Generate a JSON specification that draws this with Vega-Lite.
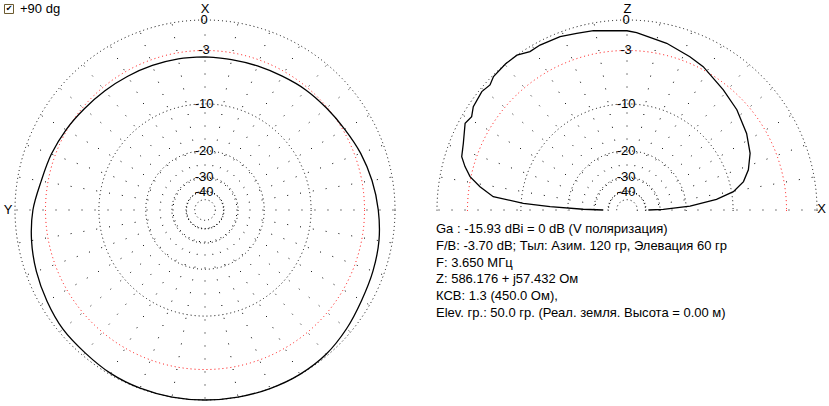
{
  "$schema": "https://vega.github.io/schema/vega-lite/v6.json",
  "padding": 0,
  "spacing": 0,
  "bounds": "flush",
  "background": "white",
  "config": {"view": {"stroke": null}, "concat": {"spacing": 0}, "text": {"font": "Liberation Sans", "fontSize": 13, "color": "black"}},
  "datasets": {
    "one": [{"k": 1}],
    "rings": [{"db": 0}, {"db": -3}, {"db": -10}, {"db": -20}, {"db": -30}, {"db": -40}, {"db": -50}],
    "ringLabels": [{"db": 0, "t": "0"}, {"db": -3, "t": "-3"}, {"db": -10, "t": "-10"}, {"db": -20, "t": "-20"}, {"db": -30, "t": "-30"}, {"db": -40, "t": "-40"}],
    "spokesFull": [{"a": 0}, {"a": 10}, {"a": 20}, {"a": 30}, {"a": 40}, {"a": 50}, {"a": 60}, {"a": 70}, {"a": 80}, {"a": 90}, {"a": 100}, {"a": 110}, {"a": 120}, {"a": 130}, {"a": 140}, {"a": 150}, {"a": 160}, {"a": 170}, {"a": 180}, {"a": 190}, {"a": 200}, {"a": 210}, {"a": 220}, {"a": 230}, {"a": 240}, {"a": 250}, {"a": 260}, {"a": 270}, {"a": 280}, {"a": 290}, {"a": 300}, {"a": 310}, {"a": 320}, {"a": 330}, {"a": 340}, {"a": 350}],
    "spokesHalf": [{"a": 0}, {"a": 10}, {"a": 20}, {"a": 30}, {"a": 40}, {"a": 50}, {"a": 60}, {"a": 70}, {"a": 80}, {"a": 90}, {"a": 100}, {"a": 110}, {"a": 120}, {"a": 130}, {"a": 140}, {"a": 150}, {"a": 160}, {"a": 170}, {"a": 180}],
    "azimuth": [
      {"az": 0, "db": -3.70}, {"az": 10, "db": -3.66}, {"az": 20, "db": -3.62}, {"az": 30, "db": -3.55},
      {"az": 40, "db": -3.42}, {"az": 50, "db": -3.22}, {"az": 60, "db": -2.90}, {"az": 70, "db": -2.58},
      {"az": 80, "db": -2.28}, {"az": 90, "db": -1.70}, {"az": 100, "db": -1.30}, {"az": 110, "db": -0.98},
      {"az": 120, "db": -0.70}, {"az": 130, "db": -0.42}, {"az": 140, "db": -0.32}, {"az": 150, "db": -0.12},
      {"az": 160, "db": -0.03}, {"az": 170, "db": 0}, {"az": 180, "db": 0}, {"az": 190, "db": 0},
      {"az": 200, "db": 0}, {"az": 210, "db": -0.02}, {"az": 220, "db": -0.15}, {"az": 230, "db": -0.48},
      {"az": 240, "db": -0.85}, {"az": 250, "db": -1.05}, {"az": 260, "db": -1.25}, {"az": 270, "db": -1.58},
      {"az": 280, "db": -1.95}, {"az": 290, "db": -2.35}, {"az": 300, "db": -2.80}, {"az": 310, "db": -3.10},
      {"az": 320, "db": -3.30}, {"az": 330, "db": -3.55}, {"az": 340, "db": -3.68}, {"az": 350, "db": -3.74},
      {"az": 360, "db": -3.70}
    ],
    "elevation": [
      {"el": 0, "db": -37.5}, {"el": 1, "db": -28.4}, {"el": 3.6, "db": -18.9}, {"el": 6.8, "db": -12.8},
      {"el": 9.8, "db": -9.7}, {"el": 13.7, "db": -7.9}, {"el": 18.3, "db": -6.8}, {"el": 24.7, "db": -5.8},
      {"el": 32.6, "db": -5.0}, {"el": 42.4, "db": -4.2}, {"el": 51.3, "db": -3.6}, {"el": 62, "db": -2.7},
      {"el": 67.7, "db": -2.35}, {"el": 76.6, "db": -1.77}, {"el": 86.9, "db": -1.16}, {"el": 90, "db": -1.0},
      {"el": 100.6, "db": -0.7}, {"el": 105.9, "db": -0.58}, {"el": 111.1, "db": -0.38}, {"el": 117.8, "db": -0.32},
      {"el": 121.5, "db": -0.39}, {"el": 125.4, "db": 0}, {"el": 129.7, "db": 0}, {"el": 135, "db": -0.11},
      {"el": 137.6, "db": -0.41}, {"el": 140.8, "db": -0.24}, {"el": 146.1, "db": -0.44}, {"el": 149, "db": -0.81},
      {"el": 151.8, "db": -0.58}, {"el": 157.8, "db": -1.24}, {"el": 162.1, "db": -1.54}, {"el": 165, "db": -2.14},
      {"el": 168, "db": -2.9}, {"el": 171, "db": -4.19}, {"el": 174.3, "db": -5.94}, {"el": 176.3, "db": -10.36},
      {"el": 177.5, "db": -15.5}, {"el": 179, "db": -25.2}, {"el": 180, "db": -35.7}
    ],
    "info": [
      {"line": 0, "t": "Ga : -15.93 dBi = 0 dB  (V поляризация)"},
      {"line": 1, "t": "F/B: -3.70 dB; Тыл: Азим. 120 гр, Элевация 60 гр"},
      {"line": 2, "t": "F: 3.650 МГц"},
      {"line": 3, "t": "Z: 586.176 + j57.432 Ом"},
      {"line": 4, "t": "КСВ: 1.3 (450.0 Ом),"},
      {"line": 5, "t": "Elev. гр.: 50.0 гр. (Реал. земля. Высота = 0.00 м)"}
    ]
  },
  "hconcat": [
    {
      "width": 410,
      "height": 406,
      "layer": [
        {
          "data": {"name": "rings"},
          "transform": [{"calculate": "pow(0.89, -datum.db/2)", "as": "rr"}, {"calculate": "datum.db == -3 ? 'ref' : 'grid'", "as": "kind"}],
          "mark": {"type": "point", "shape": "circle", "filled": false, "strokeWidth": 1, "strokeDash": [1, 3], "opacity": 1},
          "encoding": {
            "x": {"datum": 0, "type": "quantitative", "scale": {"domain": [-1.07895, 1.07895], "nice": false, "zero": false}, "axis": null},
            "y": {"datum": 0, "type": "quantitative", "scale": {"domain": [-1.03158, 1.10526], "nice": false, "zero": false}, "axis": null},
            "size": {"field": "rr", "type": "quantitative", "scale": {"type": "pow", "exponent": 2, "domain": [0, 1], "range": [0, 144400], "zero": true}, "legend": null},
            "stroke": {"field": "kind", "type": "nominal", "scale": {"domain": ["grid", "ref"], "range": ["black", "red"]}, "legend": null}
          }
        },
        {
          "data": {"name": "spokesFull"},
          "transform": [
            {"calculate": "pow(0.89, 20)", "as": "r0"},
            {"calculate": "-datum.r0*sin(datum.a*PI/180)", "as": "xa"},
            {"calculate": "datum.r0*cos(datum.a*PI/180)", "as": "ya"},
            {"calculate": "-sin(datum.a*PI/180)", "as": "xb"},
            {"calculate": "cos(datum.a*PI/180)", "as": "yb"}
          ],
          "mark": {"type": "rule", "color": "black", "strokeWidth": 1, "strokeDash": [1, 12]},
          "encoding": {
            "x": {"field": "xa", "type": "quantitative"},
            "y": {"field": "ya", "type": "quantitative"},
            "x2": {"field": "xb"},
            "y2": {"field": "yb"}
          }
        },
        {
          "data": {"name": "azimuth"},
          "transform": [
            {"calculate": "pow(0.89, -datum.db/2)", "as": "rr"},
            {"calculate": "-datum.rr*sin(datum.az*PI/180)", "as": "px"},
            {"calculate": "datum.rr*cos(datum.az*PI/180)", "as": "py"}
          ],
          "mark": {"type": "line", "color": "black", "strokeWidth": 1.3, "interpolate": "catmull-rom"},
          "encoding": {
            "x": {"field": "px", "type": "quantitative"},
            "y": {"field": "py", "type": "quantitative"},
            "order": {"field": "az", "type": "quantitative"}
          }
        },
        {
          "data": {"name": "ringLabels"},
          "transform": [{"calculate": "pow(0.89, -datum.db/2)", "as": "rr"}],
          "mark": {"type": "text", "align": "center", "baseline": "middle"},
          "encoding": {
            "x": {"datum": -0.005, "type": "quantitative"},
            "y": {"field": "rr", "type": "quantitative"},
            "text": {"field": "t"}
          }
        },
        {
          "data": {"name": "one"},
          "mark": {"type": "text", "align": "center", "baseline": "middle", "text": "X"},
          "encoding": {"x": {"datum": 0, "type": "quantitative"}, "y": {"datum": 1.0605, "type": "quantitative"}}
        },
        {
          "data": {"name": "one"},
          "mark": {"type": "text", "align": "center", "baseline": "middle", "text": "Y"},
          "encoding": {"x": {"datum": -1.037, "type": "quantitative"}, "y": {"datum": 0, "type": "quantitative"}}
        },
        {
          "data": {"name": "one"},
          "mark": {"type": "point", "shape": "square", "filled": true, "color": "white", "stroke": "#6b5a2e", "strokeWidth": 1, "size": 81, "opacity": 1},
          "encoding": {"x": {"datum": -1.0316, "type": "quantitative"}, "y": {"datum": 1.0579, "type": "quantitative"}}
        },
        {
          "data": {"name": "one"},
          "mark": {"type": "text", "align": "center", "baseline": "middle", "text": "✔", "font": "DejaVu Sans", "fontSize": 8},
          "encoding": {"x": {"datum": -1.0316, "type": "quantitative"}, "y": {"datum": 1.0579, "type": "quantitative"}}
        },
        {
          "data": {"name": "one"},
          "mark": {"type": "text", "align": "left", "baseline": "middle", "text": "+90 dg"},
          "encoding": {"x": {"datum": -0.9737, "type": "quantitative"}, "y": {"datum": 1.0579, "type": "quantitative"}}
        }
      ]
    },
    {
      "vconcat": [
        {
          "width": 419,
          "height": 211,
          "layer": [
            {
              "data": {"name": "rings"},
              "transform": [{"calculate": "pow(0.89, -datum.db/2)", "as": "rr"}, {"calculate": "datum.db == -3 ? 'ref' : 'grid'", "as": "kind"}],
              "mark": {"type": "point", "shape": "circle", "filled": false, "strokeWidth": 1, "strokeDash": [1, 3], "opacity": 1, "clip": true},
              "encoding": {
                "x": {"datum": 0, "type": "quantitative", "scale": {"domain": [-1.14211, 1.06316], "nice": false, "zero": false}, "axis": null},
                "y": {"datum": 0, "type": "quantitative", "scale": {"domain": [-0.00526, 1.10526], "nice": false, "zero": false}, "axis": null},
                "size": {"field": "rr", "type": "quantitative", "scale": {"type": "pow", "exponent": 2, "domain": [0, 1], "range": [0, 144400], "zero": true}, "legend": null},
                "stroke": {"field": "kind", "type": "nominal", "scale": {"domain": ["grid", "ref"], "range": ["black", "red"]}, "legend": null}
              }
            },
            {
              "data": {"name": "spokesHalf"},
              "transform": [
                {"calculate": "pow(0.89, 20)", "as": "r0"},
                {"calculate": "datum.r0*cos(datum.a*PI/180)", "as": "xa"},
                {"calculate": "datum.r0*sin(datum.a*PI/180)", "as": "ya"},
                {"calculate": "cos(datum.a*PI/180)", "as": "xb"},
                {"calculate": "sin(datum.a*PI/180)", "as": "yb"}
              ],
              "mark": {"type": "rule", "color": "black", "strokeWidth": 1, "strokeDash": [1, 12]},
              "encoding": {
                "x": {"field": "xa", "type": "quantitative"},
                "y": {"field": "ya", "type": "quantitative"},
                "x2": {"field": "xb"},
                "y2": {"field": "yb"}
              }
            },
            {
              "data": {"name": "elevation"},
              "transform": [
                {"calculate": "pow(0.89, -datum.db/2)", "as": "rr"},
                {"calculate": "datum.rr*cos(datum.el*PI/180)", "as": "px"},
                {"calculate": "datum.rr*sin(datum.el*PI/180)", "as": "py"}
              ],
              "mark": {"type": "line", "color": "black", "strokeWidth": 1.3, "interpolate": "linear"},
              "encoding": {
                "x": {"field": "px", "type": "quantitative"},
                "y": {"field": "py", "type": "quantitative"},
                "order": {"field": "el", "type": "quantitative"}
              }
            },
            {
              "data": {"name": "ringLabels"},
              "transform": [{"calculate": "pow(0.89, -datum.db/2)", "as": "rr"}],
              "mark": {"type": "text", "align": "center", "baseline": "middle"},
              "encoding": {
                "x": {"datum": -0.005, "type": "quantitative"},
                "y": {"field": "rr", "type": "quantitative"},
                "text": {"field": "t"}
              }
            },
            {
              "data": {"name": "one"},
              "mark": {"type": "text", "align": "center", "baseline": "middle", "text": "Z"},
              "encoding": {"x": {"datum": 0.003, "type": "quantitative"}, "y": {"datum": 1.0605, "type": "quantitative"}}
            },
            {
              "data": {"name": "one"},
              "mark": {"type": "text", "align": "center", "baseline": "middle", "text": "X"},
              "encoding": {"x": {"datum": 1.0237, "type": "quantitative"}, "y": {"datum": 0.005, "type": "quantitative"}}
            }
          ]
        },
        {
          "width": 419,
          "height": 195,
          "data": {"name": "info"},
          "mark": {"type": "text", "align": "left", "baseline": "middle"},
          "encoding": {
            "x": {"datum": 0, "type": "quantitative", "scale": {"domain": [0, 1], "range": [26, 419]}, "axis": null},
            "y": {"field": "line", "type": "quantitative", "scale": {"domain": [0, 5], "range": [12, 96]}, "axis": null},
            "text": {"field": "t"}
          }
        }
      ]
    }
  ]
}
